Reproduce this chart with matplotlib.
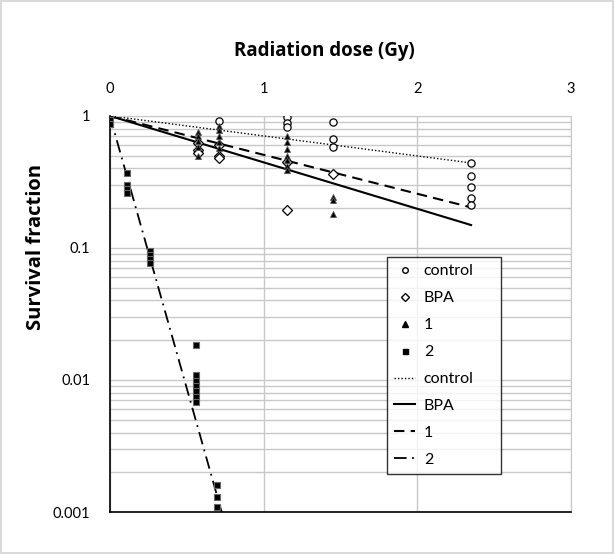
import numpy as np
import matplotlib
matplotlib.use("Agg")
from matplotlib import pyplot as plt
from matplotlib.lines import Line2D
from matplotlib.ticker import LogLocator, NullFormatter, FixedLocator

plt.rcParams['font.family'] = ['Lato', 'DejaVu Sans']

# data
control_x = [0, 0.71, 1.15, 1.15, 1.15, 1.45, 1.45, 1.45, 2.35, 2.35, 2.35, 2.35, 2.35]
control_y = [1.0, 0.92, 0.98, 0.89, 0.82, 0.905, 0.67, 0.58, 0.44, 0.35, 0.29, 0.24, 0.21]

bpa_x = [0, 0.57, 0.57, 0.57, 0.71, 0.71, 0.71, 1.15, 1.15, 1.45]
bpa_y = [1.0, 0.62, 0.55, 0.52, 0.60, 0.50, 0.48, 0.45, 0.195, 0.36]

one_x = [0, 0.57, 0.57, 0.57, 0.57, 0.57, 0.71, 0.71, 0.71, 0.71, 0.71,
         1.15, 1.15, 1.15, 1.15, 1.15, 1.15, 1.15, 1.45, 1.45, 1.45]
one_y = [1.0, 0.76, 0.70, 0.65, 0.58, 0.50, 0.84, 0.78, 0.70, 0.63, 0.57,
         0.70, 0.63, 0.56, 0.50, 0.46, 0.42, 0.39, 0.245, 0.23, 0.18]

two_x = [0, 0, 0, 0.11, 0.11, 0.11, 0.11, 0.26, 0.26, 0.26, 0.26,
         0.56, 0.56, 0.56, 0.56, 0.56, 0.56, 0.56, 0.70, 0.70, 0.70]
two_y = [1.0, 0.93, 0.87, 0.37, 0.30, 0.28, 0.26, 0.095, 0.088, 0.082, 0.077,
         0.0185, 0.011, 0.0098, 0.0090, 0.0082, 0.0074, 0.0068, 0.0016, 0.0013, 0.0011]

# exponential trendlines  y = exp(k * D)
fit_names = ['control', 'BPA', '1', '2']
fit_k = [-0.349, -0.81, -0.679, -9.5]
fit_xmax = [2.35, 2.35, 2.35, 0.75]

fig = plt.figure(figsize=(6.14, 5.54), dpi=100)
fig.patch.set_edgecolor('#d9d9d9')
fig.patch.set_linewidth(1.5)
ax = fig.add_axes([0.179, 0.0758, 0.751, 0.715])

# trendlines
styles = [dict(ls=(0, (1, 1.5)), lw=1.0), dict(ls='-', lw=1.5),
          dict(ls=(0, (5, 3)), lw=1.5), dict(ls=(0, (7, 3, 1, 3)), lw=1.3)]
for k, xm, st in zip(fit_k, fit_xmax, styles):
    xx = np.linspace(0, xm, 200)
    ax.plot(xx, np.exp(k * xx), color='black', zorder=2, **st)

ax.plot(control_x, control_y, 'o', ms=5.2, mfc='white', mec='black', mew=0.9, ls='none', zorder=3)
ax.plot(bpa_x, bpa_y, 'D', ms=5, mfc='white', mec='black', mew=0.9, ls='none', zorder=3)
ax.plot(one_x, one_y, '^', ms=5, mfc='black', mec='#555555', mew=0.6, ls='none', zorder=4)
ax.plot(two_x, two_y, 's', ms=5, mfc='black', mec='#666666', mew=0.8, ls='none', zorder=4)

ax.set_yscale('log')
ax.set_xlim(0, 3)
ax.set_ylim(0.001, 1)
ax.yaxis.set_major_locator(FixedLocator([0.001, 0.01, 0.1, 1]))
ax.set_yticklabels(['0.001', '0.01', '0.1', '1'])
ax.yaxis.set_minor_locator(LogLocator(base=10, subs=np.arange(2, 10)))
ax.yaxis.set_minor_formatter(NullFormatter())
ax.set_xticks([0, 1, 2, 3])
ax.set_xticklabels(['0', '1', '2', '3'])
ax.xaxis.tick_top()
ax.tick_params(axis='both', which='both', length=0, labelsize=10.5)
ax.tick_params(axis='x', pad=14)
ax.tick_params(axis='y', pad=14)

ax.grid(True, which='both', axis='y', color='#c8c8c8', lw=1.0)
ax.grid(True, which='major', axis='x', color='#c8c8c8', lw=1.0)
ax.set_axisbelow(True)
ax.spines['top'].set_color('#c8c8c8')
ax.spines['right'].set_color('#c8c8c8')
ax.spines['left'].set_color('black')
ax.spines['bottom'].set_color('black')
ax.spines['left'].set_linewidth(1.2)
ax.spines['bottom'].set_linewidth(1.2)

fig.text(0.528, 0.908, 'Radiation dose (Gy)', ha='center', va='center', fontsize=13.5,
         fontweight='bold', family=['Open Sans', 'DejaVu Sans'])
fig.text(0.059, 0.554, 'Survival fraction', ha='center', va='center', rotation=90, fontsize=14.5,
         fontweight='bold', family=['Open Sans', 'DejaVu Sans'])

handles = [
    Line2D([], [], marker='o', ms=4, mfc='white', mec='black', ls='none'),
    Line2D([], [], marker='D', ms=3.6, mfc='white', mec='black', ls='none'),
    Line2D([], [], marker='^', ms=4, mfc='black', mec='black', ls='none'),
    Line2D([], [], marker='s', ms=3.6, mfc='black', mec='black', ls='none'),
]
for st in styles:
    handles.append(Line2D([], [], color='black', **st))
labels = ['control', 'BPA', '1', '2'] + fit_names
leg = ax.legend(handles, labels, loc='upper left', bbox_to_anchor=(0.601, 0.644, 0.247, 0.0),
                mode='expand', frameon=True, fancybox=False, edgecolor='black', fontsize=11.5,
                handlelength=1.3, labelspacing=0.8, borderpad=0.45, handletextpad=0.55,
                borderaxespad=0)
leg.get_frame().set_linewidth(1.0)

fig.savefig('out.png', dpi=100)
